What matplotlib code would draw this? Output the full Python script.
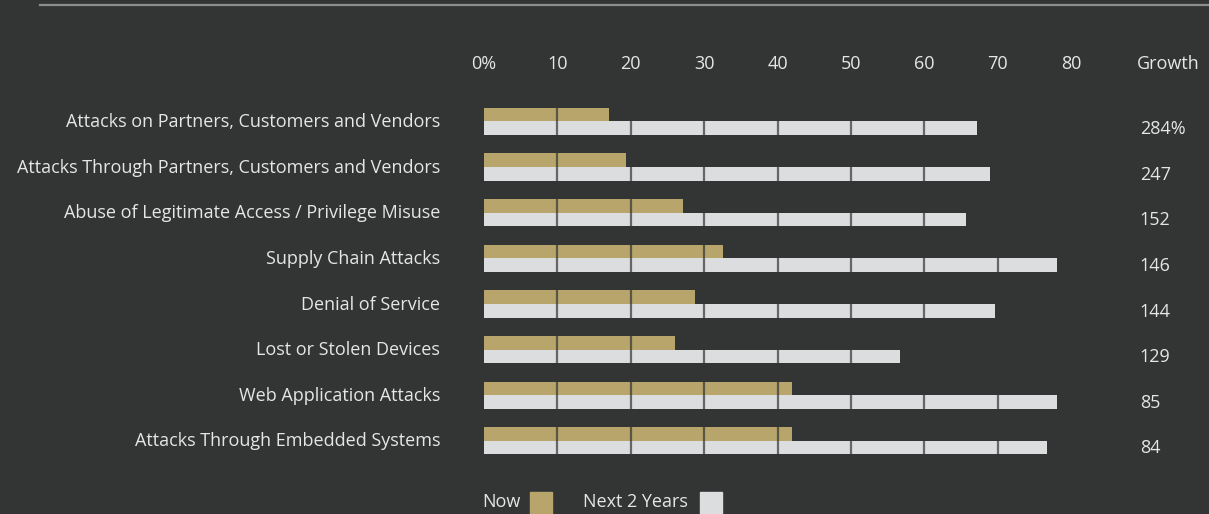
import matplotlib
matplotlib.use("Agg")
import matplotlib.pyplot as plt
from matplotlib.patches import Rectangle
from matplotlib.lines import Line2D

# ---- data -------------------------------------------------------------
categories = [
    "Attacks on Partners, Customers and Vendors",
    "Attacks Through Partners, Customers and Vendors",
    "Abuse of Legitimate Access / Privilege Misuse",
    "Supply Chain Attacks",
    "Denial of Service",
    "Lost or Stolen Devices",
    "Web Application Attacks",
    "Attacks Through Embedded Systems",
]
now_pct = [17.0, 19.3, 27.1, 32.6, 28.7, 26.0, 42.0, 42.0]
next2_pct = [67.2, 68.9, 65.7, 78.1, 69.6, 56.7, 78.1, 76.7]
growth_labels = ["284%", "247", "152", "146", "144", "129", "85", "84"]
tick_values = [0, 10, 20, 30, 40, 50, 60, 70, 80]
tick_labels = ["0%", "10", "20", "30", "40", "50", "60", "70", "80"]
series_names = ["Now", "Next 2 Years"]

# ---- style ------------------------------------------------------------
BG = "#323534"
GOLD = "#b8a56c"
LIGHT = "#dcddde"
TEXT = "#e6e6e6"
FS = 13
plt.rcParams["font.family"] = ["Open Sans", "DejaVu Sans"]

W, H = 1209, 514
fig = plt.figure(figsize=(W / 100, H / 100), dpi=100, facecolor=BG)

def px_box(x0, y0, x1, y1):
    """Figure-fraction rectangle from pixel edges (y measured from the top)."""
    return [x0 / W, 1 - y1 / H, (x1 - x0) / W, (y1 - y0) / H]

# thin rule across the top of the panel
fig.add_artist(Line2D([40 / W, 1], [1 - 5 / H, 1 - 5 / H], color="#8c8e8e", lw=1.6))

ax = fig.add_axes(px_box(484, 90, 1071, 470))
ax.set_facecolor(BG)
for s in ax.spines.values():
    s.set_visible(False)

n = len(categories)
ax.set_xlim(0, 80)
ax.set_ylim(7.64, -0.69)

bar_h = 0.30
ys = list(range(n))
ax.barh([y - bar_h / 2 for y in ys], now_pct, height=bar_h, color=GOLD, zorder=2)
ax.barh([y + bar_h / 2 for y in ys], next2_pct, height=bar_h, color=LIGHT, zorder=2)

# interior gridlines, painted over the bars
for v in tick_values[1:-1]:
    ax.axvline(v, color=BG, alpha=0.7, lw=1.6, zorder=3)

# percentage scale along the top
ax.xaxis.tick_top()
ax.set_xticks(tick_values)
ax.set_xticklabels(tick_labels, color=TEXT, fontsize=FS)
ax.tick_params(axis="x", length=0, pad=12)
ax.set_yticks([])

# category names and growth figures
for y, name, g in zip(ys, categories, growth_labels):
    ax.annotate(name, xy=(0, y), xycoords=("axes fraction", "data"),
                xytext=(-31.5, -0.5), textcoords="offset points",
                ha="right", va="center", color=TEXT, fontsize=FS)
    ax.annotate(g, xy=(1, y), xycoords=("axes fraction", "data"),
                xytext=(49.5, -5.5), textcoords="offset points",
                ha="left", va="center", color=TEXT, fontsize=FS)

ax.annotate("Growth", xy=(1, 1), xycoords="axes fraction",
            xytext=(47.5, 18.5), textcoords="offset points",
            ha="left", va="center", color=TEXT, fontsize=FS)

# legend
legend_items = [(series_names[0], GOLD, 482, 530), (series_names[1], LIGHT, 583, 700)]
for label, col, tx, sx in legend_items:
    fig.text(tx / W, 1 - 502 / H, label, ha="left", va="center", color=TEXT, fontsize=FS)
    fig.add_artist(Rectangle((sx / W, 1 - 514 / H), 22 / W, 22 / H,
                             transform=fig.transFigure, color=col))

fig.savefig("out.png", dpi=100, facecolor=BG)
